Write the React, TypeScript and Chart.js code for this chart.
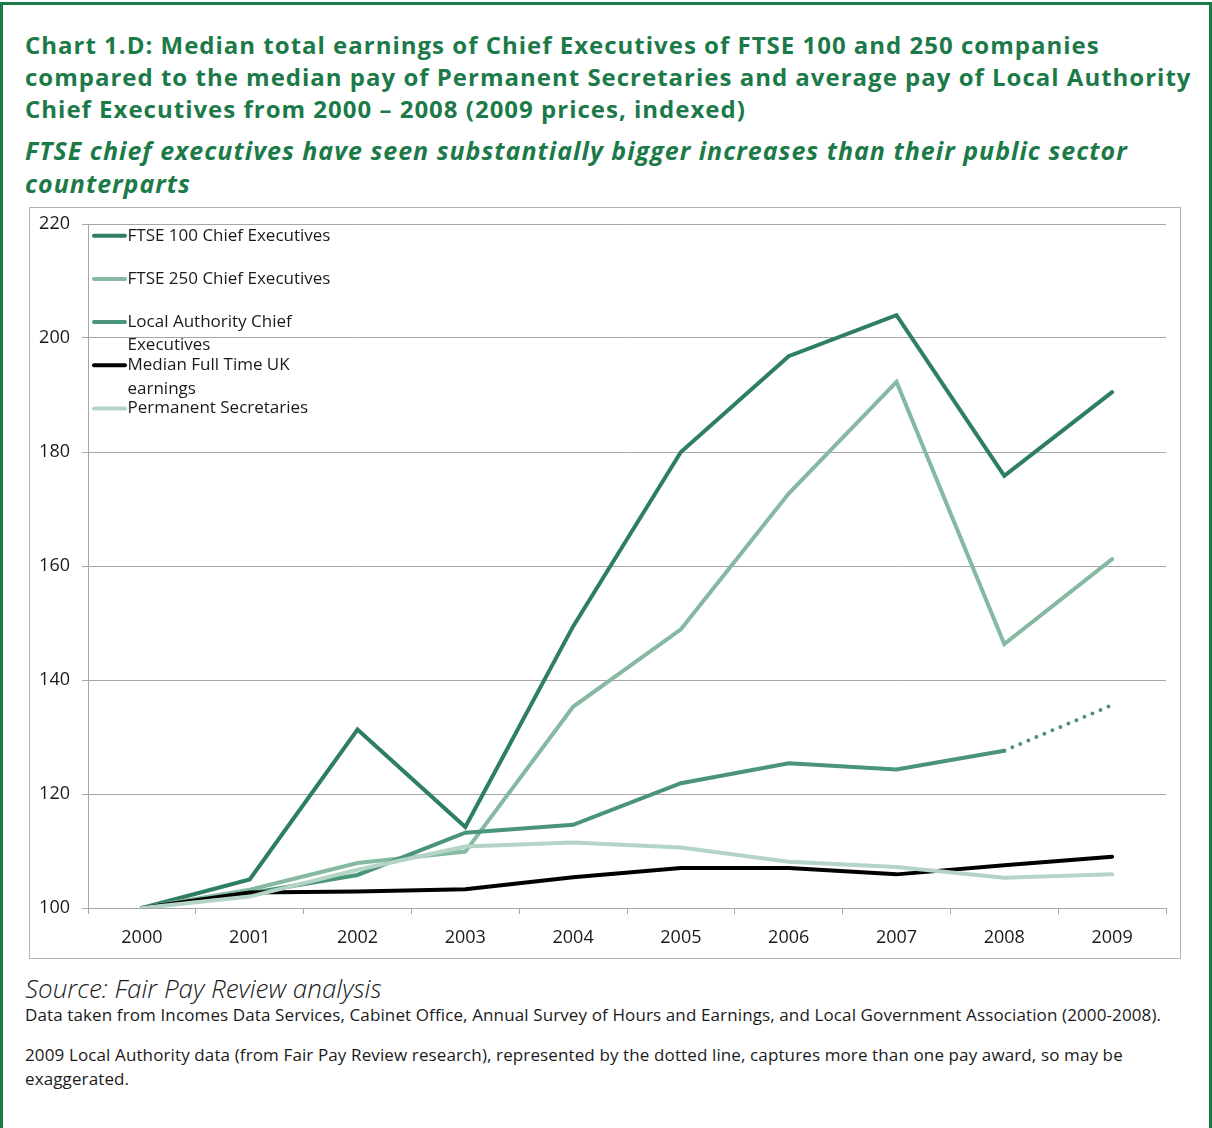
import React, { useEffect, useRef } from "react";
import { Chart, registerables } from "chart.js";

Chart.register(...registerables);

// ---- data ----
const years = ["2000", "2001", "2002", "2003", "2004", "2005", "2006", "2007", "2008", "2009"];
const ftse100 = [100, 105.0, 131.3, 114.2, 149.4, 180.0, 196.8, 204.0, 175.8, 190.5];
const ftse250 = [100, 103.2, 107.9, 109.9, 135.3, 148.9, 172.7, 192.3, 146.3, 161.2];
const localAuthority = [100, 102.6, 105.8, 113.2, 114.6, 121.9, 125.4, 124.3, 127.6, 135.6];
const medianUK = [100, 102.7, 102.9, 103.3, 105.4, 107.0, 107.0, 105.9, 107.5, 109.0];
const permSecs = [100, 102.0, 106.7, 110.8, 111.5, 110.6, 108.1, 107.2, 105.3, 105.9];

const seriesNames = [
  "FTSE 100 Chief Executives",
  "FTSE 250 Chief Executives",
  "Local Authority Chief\nExecutives",
  "Median Full Time UK\nearnings",
  "Permanent Secretaries",
];
const seriesColors = ["#2e7f61", "#86b9a1", "#4a9479", "#000000", "#b4d5c5"];
const yTicks = { min: 100, max: 220, step: 20 };

const GREEN = "#1c7a49";
const FONT = "'Open Sans', 'Noto Sans', sans-serif";

const legendPlugin = {
  id: "insetLegend",
  afterDraw(chart: any) {
    const ctx = chart.ctx;
    ctx.save();
    chart.data.datasets.forEach((ds: any, i: number) => {
      const y = 27.7 + i * 43.2;
      ctx.beginPath();
      ctx.strokeStyle = ds.borderColor;
      ctx.lineWidth = 4;
      ctx.lineCap = "round";
      ctx.moveTo(64, y);
      ctx.lineTo(95, y);
      ctx.stroke();
      ctx.fillStyle = "#1a1a1a";
      ctx.font = `17px ${FONT}`;
      ctx.textBaseline = "middle";
      ctx.textAlign = "left";
      String(ds.label)
        .split("\n")
        .forEach((line: string, j: number) => {
          ctx.fillText(line, 97.5, y + j * 23.5);
        });
    });
    ctx.restore();
  },
};

function LineChart() {
  const ref = useRef<HTMLCanvasElement | null>(null);
  useEffect(() => {
    if (!ref.current) return;
    const dataArrays = [ftse100, ftse250, localAuthority, medianUK, permSecs];
    const orders = [4, 3, 2, 1, 0];
    const chart = new Chart(ref.current, {
      type: "line",
      data: {
        labels: years,
        datasets: dataArrays.map((d, i) => ({
          label: seriesNames[i],
          data: d,
          borderColor: seriesColors[i],
          backgroundColor: seriesColors[i],
          borderWidth: 4,
          pointRadius: 0,
          tension: 0,
          fill: false,
          order: orders[i],
          borderCapStyle: "round" as const,
          segment:
            i === 2
              ? {
                  borderDash: (c: any) => (c.p0DataIndex === 8 ? [0, 8.7] : undefined),
                  borderWidth: (c: any) => (c.p0DataIndex === 8 ? 4 : undefined),
                }
              : undefined,
        })),
      },
      options: {
        responsive: false,
        animation: false,
        layout: { padding: { left: 0, right: 14, top: 16, bottom: 0 } },
        plugins: {
          legend: { display: false },
          tooltip: { enabled: false },
          title: { display: false },
        },
        scales: {
          x: {
            offset: true,
            grid: {
              offset: true,
              drawOnChartArea: false,
              drawTicks: true,
              tickLength: 6,
              color: "#a6a6a6",
            },
            border: { display: true, color: "#a6a6a6" },
            ticks: {
              color: "#1a1a1a",
              font: { family: FONT, size: 18 },
              padding: 13,
              maxRotation: 0,
            },
            afterFit(scale: any) {
              scale.height = 50;
              scale.paddingLeft = 0;
              scale.paddingRight = 0;
            },
          },
          y: {
            min: yTicks.min,
            max: yTicks.max,
            ticks: {
              stepSize: yTicks.step,
              color: "#1a1a1a",
              font: { family: FONT, size: 18 },
              padding: 12,
            },
            grid: { color: "#a6a6a6", tickLength: 6, drawTicks: true },
            border: { display: true, color: "#a6a6a6" },
            afterFit(scale: any) {
              scale.width = 58;
              scale.paddingTop = 0;
              scale.paddingBottom = 0;
            },
          },
        },
      },
      plugins: [legendPlugin],
    });
    return () => chart.destroy();
  }, []);
  return (
    <canvas
      ref={ref}
      width={1150}
      height={750}
      style={{ position: "absolute", left: 30, top: 208, width: 1150, height: 750 }}
    />
  );
}

export default function App() {
  return (
    <div
      style={{
        position: "absolute",
        left: 0,
        top: 0,
        width: 1212,
        height: 1128,
        overflow: "hidden",
        background: "#ffffff",
        fontFamily: FONT,
      }}
    >
      <div
        style={{
          position: "absolute",
          left: 0,
          top: 2,
          width: 1206,
          height: 1300,
          borderTop: `3px solid ${GREEN}`,
          borderLeft: `3px solid ${GREEN}`,
          borderRight: `3px solid ${GREEN}`,
        }}
      />
      <div
        style={{
          position: "absolute",
          left: 25,
          top: 29,
          fontSize: 24,
          letterSpacing: "1px",
          lineHeight: "32px",
          fontWeight: 700,
          color: GREEN,
          whiteSpace: "nowrap",
        }}
      >
        Chart 1.D: Median total earnings of Chief Executives of FTSE 100 and 250 companies
        <br />
        compared to the median pay of Permanent Secretaries and average pay of Local Authority
        <br />
        Chief Executives from 2000 – 2008 (2009 prices, indexed)
      </div>
      <div
        style={{
          position: "absolute",
          left: 25,
          top: 134,
          fontSize: 25,
          letterSpacing: "1px",
          lineHeight: "33px",
          fontWeight: 700,
          fontStyle: "italic",
          color: GREEN,
          whiteSpace: "nowrap",
        }}
      >
        FTSE chief executives have seen substantially bigger increases than their public sector
        <br />
        counterparts
      </div>
      <div
        style={{
          position: "absolute",
          left: 29,
          top: 207,
          width: 1150,
          height: 750,
          border: "1px solid #b3b3b3",
        }}
      />
      <LineChart />
      <div
        style={{
          position: "absolute",
          left: 25,
          top: 971,
          fontSize: 26,
          lineHeight: "34px",
          fontStyle: "italic",
          fontWeight: 300,
          color: "#1a1a1a",
          whiteSpace: "nowrap",
        }}
      >
        Source: Fair Pay Review analysis
      </div>
      <div
        style={{
          position: "absolute",
          left: 25,
          top: 1003,
          fontSize: 17,
          letterSpacing: "0.12px",
          lineHeight: "24px",
          color: "#1a1a1a",
          whiteSpace: "nowrap",
        }}
      >
        Data taken from Incomes Data Services, Cabinet Office, Annual Survey of Hours and Earnings, and Local Government Association (2000-2008).
      </div>
      <div
        style={{
          position: "absolute",
          left: 25,
          top: 1043,
          fontSize: 17,
          letterSpacing: "0.12px",
          lineHeight: "24px",
          color: "#1a1a1a",
          whiteSpace: "nowrap",
        }}
      >
        2009 Local Authority data (from Fair Pay Review research), represented by the dotted line, captures more than one pay award, so may be
        <br />
        exaggerated.
      </div>
    </div>
  );
}
